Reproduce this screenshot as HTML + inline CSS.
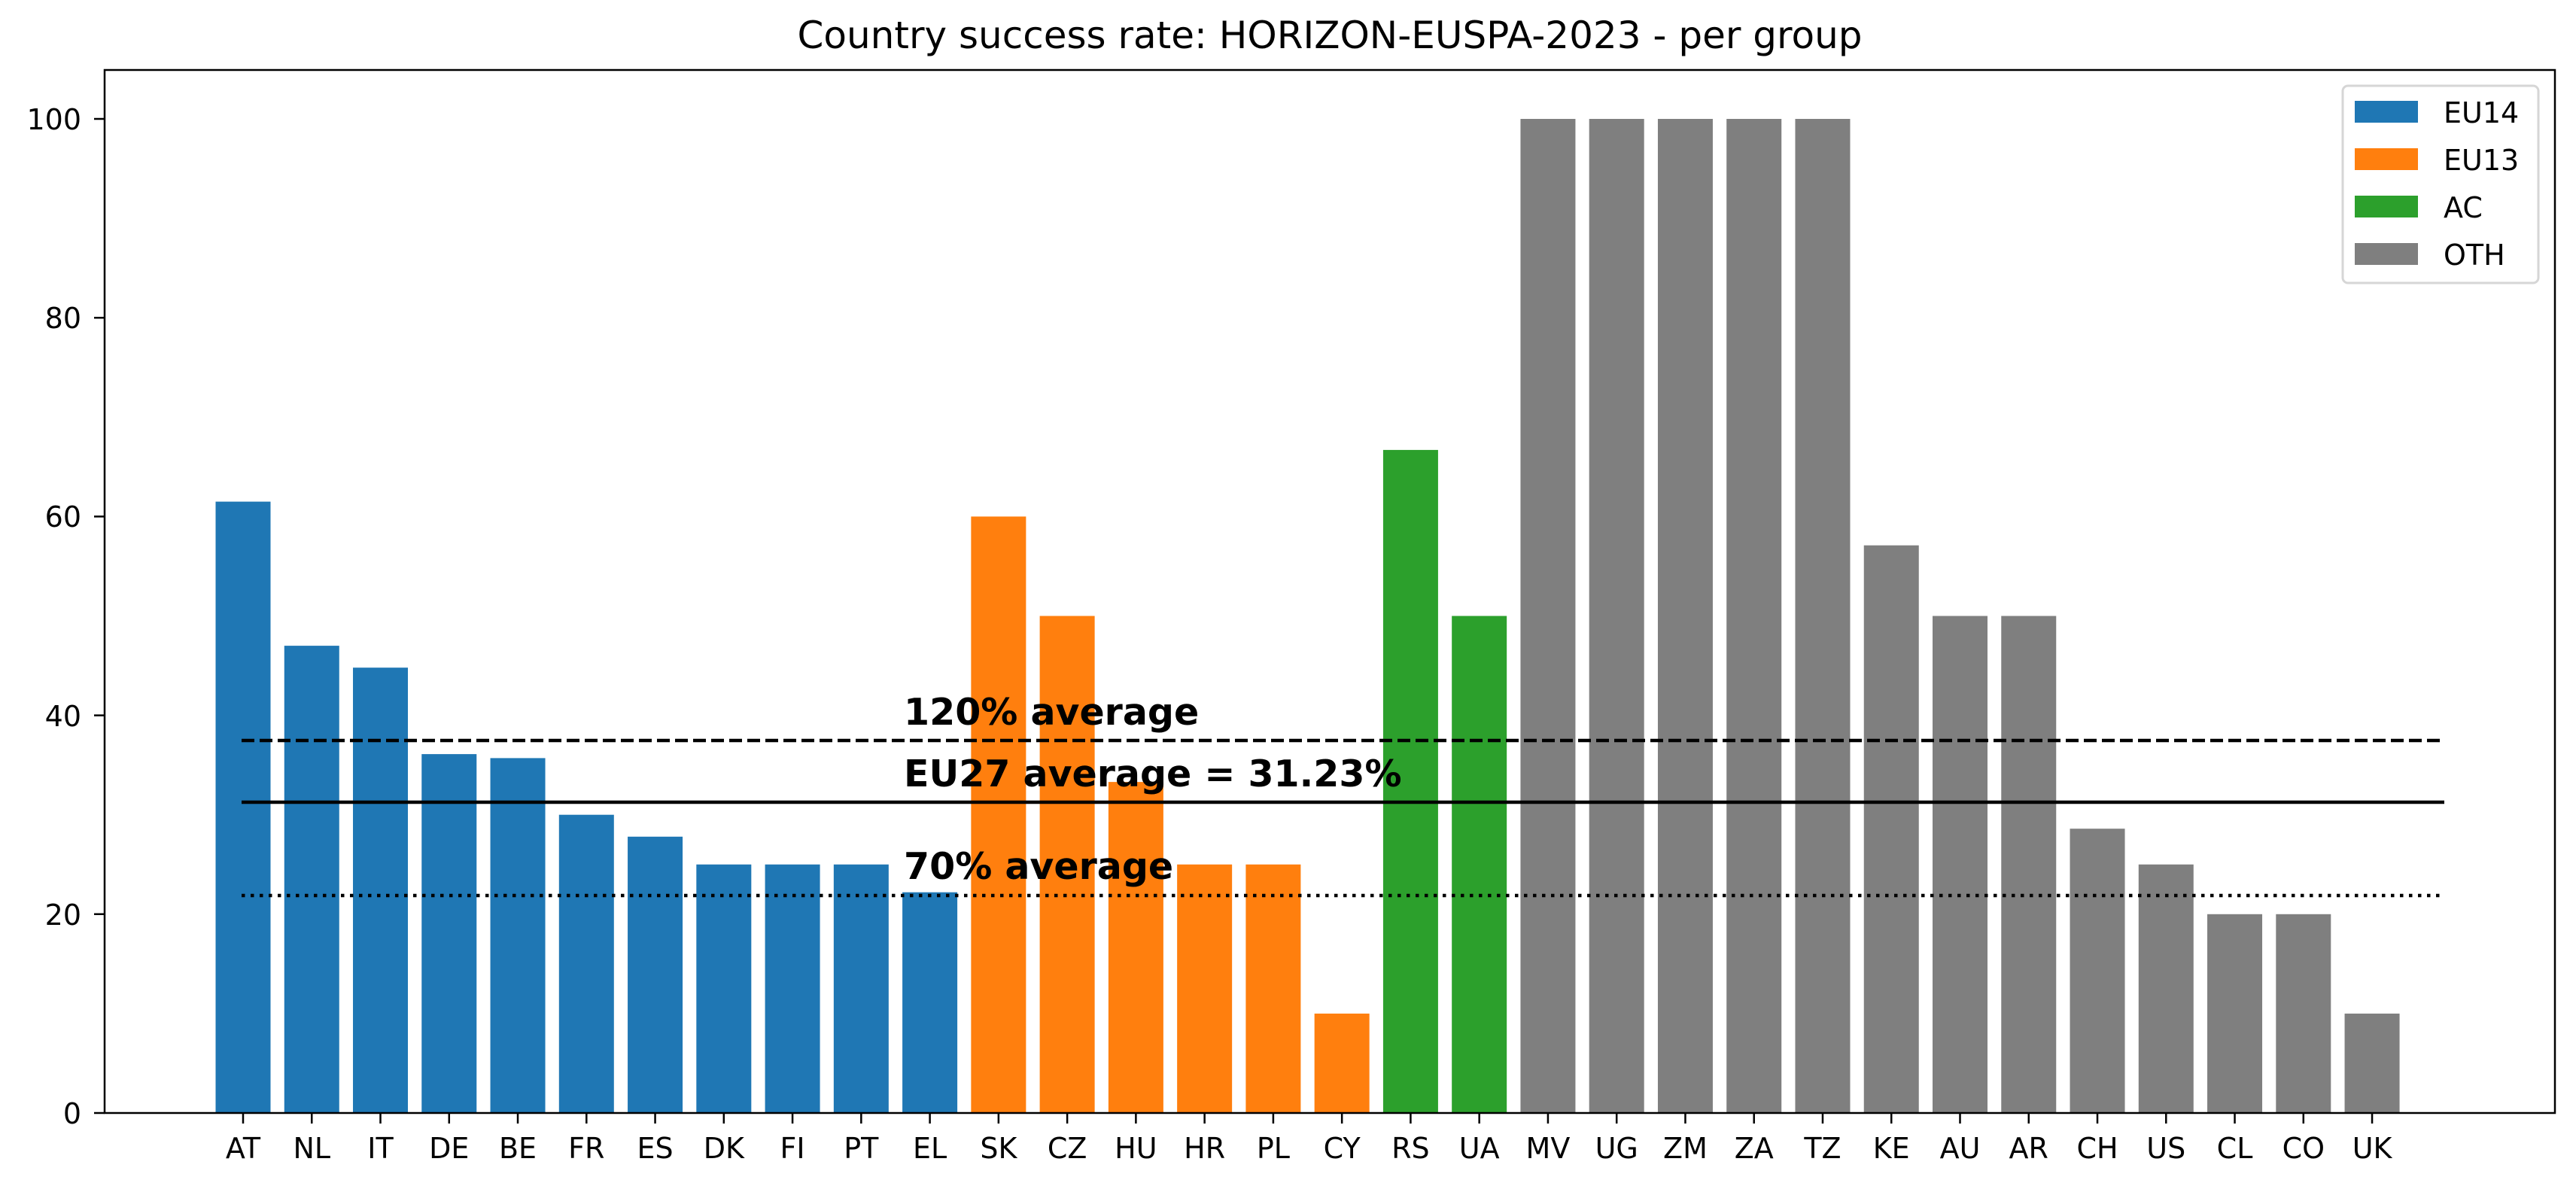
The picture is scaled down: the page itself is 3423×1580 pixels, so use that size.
<!DOCTYPE html>
<html><head><meta charset="utf-8"><style>body{margin:0;background:#fff}svg{display:block}</style></head>
<body>
<svg xmlns="http://www.w3.org/2000/svg" width="3423" height="1580" viewBox="0 0 3423 1580" font-family="'DejaVu Sans','Liberation Sans',sans-serif">
<rect width="3423" height="1580" fill="#fff"/>
<text x="1767" y="64" font-size="50" text-anchor="middle">Country success rate: HORIZON-EUSPA-2023 - per group</text>
<g transform="translate(0,1479) scale(1,-1)">
<g fill="#1f77b4">
<rect x="286.5" y="0" width="73" height="812.4"/>
<rect x="377.76" y="0" width="73" height="620.9"/>
<rect x="469.02" y="0" width="73" height="591.8"/>
<rect x="560.28" y="0" width="73" height="476.9"/>
<rect x="651.54" y="0" width="73" height="471.6"/>
<rect x="742.8" y="0" width="73" height="396.3"/>
<rect x="834.06" y="0" width="73" height="367.2"/>
<rect x="925.32" y="0" width="73" height="330.25"/>
<rect x="1016.58" y="0" width="73" height="330.25"/>
<rect x="1107.84" y="0" width="73" height="330.25"/>
<rect x="1199.1" y="0" width="73" height="293.3"/>
</g>
<g fill="#ff7f0e">
<rect x="1290.36" y="0" width="73" height="792.6"/>
<rect x="1381.62" y="0" width="73" height="660.5"/>
<rect x="1472.88" y="0" width="73" height="439.9"/>
<rect x="1564.14" y="0" width="73" height="330.25"/>
<rect x="1655.4" y="0" width="73" height="330.25"/>
<rect x="1746.66" y="0" width="73" height="132.1"/>
</g>
<g fill="#2ca02c">
<rect x="1837.92" y="0" width="73" height="881.1"/>
<rect x="1929.18" y="0" width="73" height="660.5"/>
</g>
<g fill="#7f7f7f">
<rect x="2020.44" y="0" width="73" height="1321"/>
<rect x="2111.7" y="0" width="73" height="1321"/>
<rect x="2202.96" y="0" width="73" height="1321"/>
<rect x="2294.22" y="0" width="73" height="1321"/>
<rect x="2385.48" y="0" width="73" height="1321"/>
<rect x="2476.74" y="0" width="73" height="754.3"/>
<rect x="2568" y="0" width="73" height="660.5"/>
<rect x="2659.26" y="0" width="73" height="660.5"/>
<rect x="2750.52" y="0" width="73" height="377.8"/>
<rect x="2841.78" y="0" width="73" height="330.25"/>
<rect x="2933.04" y="0" width="73" height="264.2"/>
<rect x="3024.3" y="0" width="73" height="264.2"/>
<rect x="3115.56" y="0" width="73" height="132.1"/>
</g>
</g>
<path stroke="#000" stroke-width="2.5" d="M323 1479v14M414.26 1479v14M505.52 1479v14M596.78 1479v14M688.04 1479v14M779.3 1479v14M870.56 1479v14M961.82 1479v14M1053.08 1479v14M1144.34 1479v14M1235.6 1479v14M1326.86 1479v14M1418.12 1479v14M1509.38 1479v14M1600.64 1479v14M1691.9 1479v14M1783.16 1479v14M1874.42 1479v14M1965.68 1479v14M2056.94 1479v14M2148.2 1479v14M2239.46 1479v14M2330.72 1479v14M2421.98 1479v14M2513.24 1479v14M2604.5 1479v14M2695.76 1479v14M2787.02 1479v14M2878.28 1479v14M2969.54 1479v14M3060.8 1479v14M3152.06 1479v14M125 1479h14M125 1214.8h14M125 950.6h14M125 686.4h14M125 422.2h14M125 158h14"/>
<g font-size="38" text-anchor="middle">
<text x="323" y="1539">AT</text><text x="414.26" y="1539">NL</text><text x="505.52" y="1539">IT</text><text x="596.78" y="1539">DE</text><text x="688.04" y="1539">BE</text><text x="779.3" y="1539">FR</text><text x="870.56" y="1539">ES</text><text x="961.82" y="1539">DK</text><text x="1053.08" y="1539">FI</text><text x="1144.34" y="1539">PT</text><text x="1235.6" y="1539">EL</text><text x="1326.86" y="1539">SK</text><text x="1418.12" y="1539">CZ</text><text x="1509.38" y="1539">HU</text><text x="1600.64" y="1539">HR</text><text x="1691.9" y="1539">PL</text><text x="1783.16" y="1539">CY</text><text x="1874.42" y="1539">RS</text><text x="1965.68" y="1539">UA</text><text x="2056.94" y="1539">MV</text><text x="2148.2" y="1539">UG</text><text x="2239.46" y="1539">ZM</text><text x="2330.72" y="1539">ZA</text><text x="2421.98" y="1539">TZ</text><text x="2513.24" y="1539">KE</text><text x="2604.5" y="1539">AU</text><text x="2695.76" y="1539">AR</text><text x="2787.02" y="1539">CH</text><text x="2878.28" y="1539">US</text><text x="2969.54" y="1539">CL</text><text x="3060.8" y="1539">CO</text><text x="3152.06" y="1539">UK</text>
</g>
<g font-size="38" text-anchor="end">
<text x="108" y="1493">0</text><text x="108" y="1229">20</text><text x="108" y="965">40</text><text x="108" y="700">60</text><text x="108" y="436">80</text><text x="108" y="172">100</text>
</g>
<line x1="321" y1="984" x2="3248" y2="984" stroke="#000" stroke-width="4.5" stroke-dasharray="17,7"/>
<line x1="321" y1="1066" x2="3248" y2="1066" stroke="#000" stroke-width="4.5"/>
<line x1="321" y1="1190" x2="3248" y2="1190" stroke="#000" stroke-width="4.5" stroke-dasharray="4.5,7.5"/>
<g font-size="49" font-weight="bold">
<text x="1201" y="963">120% average</text>
<text x="1201" y="1045">EU27 average = 31.23%</text>
<text x="1201" y="1168">70% average</text>
</g>
<rect x="139" y="93" width="3256" height="1386" fill="none" stroke="#000" stroke-width="2.5"/>
<rect x="3113" y="114" width="260" height="262" rx="7" fill="#fff" stroke="#d6d6d6" stroke-width="3"/>
<rect x="3129" y="134" width="84" height="29" fill="#1f77b4"/>
<rect x="3129" y="197" width="84" height="29" fill="#ff7f0e"/>
<rect x="3129" y="260" width="84" height="29" fill="#2ca02c"/>
<rect x="3129" y="323" width="84" height="29" fill="#7f7f7f"/>
<g font-size="38">
<text x="3247" y="163">EU14</text>
<text x="3247" y="226">EU13</text>
<text x="3247" y="289">AC</text>
<text x="3247" y="352">OTH</text>
</g>
</svg>
</body></html>
